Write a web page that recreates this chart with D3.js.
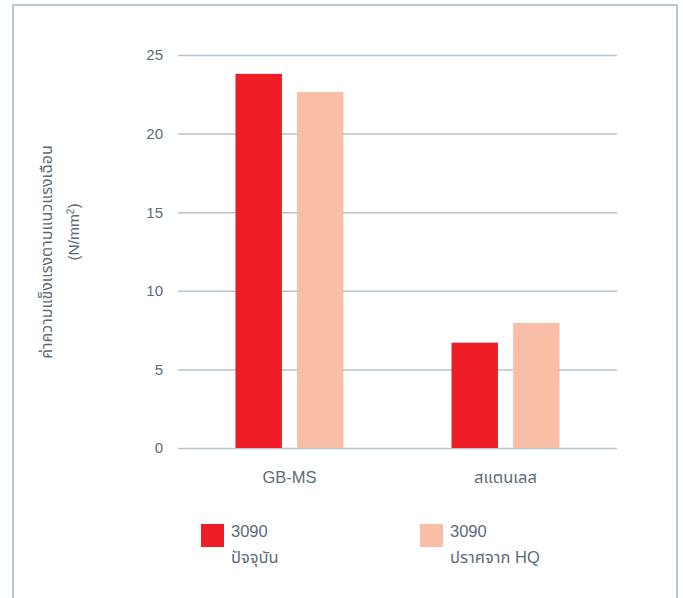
<!DOCTYPE html>
<html>
<head>
<meta charset="utf-8">
<script src="https://cdn.jsdelivr.net/npm/d3@7"></script>
<style>
  body { margin: 0; background: #fff; }
  text { font-family: "Liberation Sans", "Noto Sans Thai", "Noto Sans", sans-serif; fill: #5b6b78; }
</style>
</head>
<body>
<script>
// categories and series
var categories = ["GB-MS", "สแตนเลส"];
var seriesNames = ["3090|ปัจจุบัน", "3090|ปราศจาก HQ"];
var seriesColors = ["#ee1d25", "#f9bfa6"];
var current = [23.8, 6.7];
var noHQ = [22.65, 7.95];
var yTicks = [0, 5, 10, 15, 20, 25];

var width = 683, height = 598;
var plotLeft = 178, plotRight = 617, plotTop = 55, plotBottom = 448;

var svg = d3.select("body").append("svg")
            .attr("width", width)
            .attr("height", height);

// outer frame
svg.append("rect")
   .attr("x", 13).attr("y", 5)
   .attr("width", 664).attr("height", 610)
   .attr("fill", "none")
   .attr("stroke", "#b8c8d3")
   .attr("stroke-width", 2);

var y = d3.scaleLinear().domain([0, 25]).range([plotBottom, plotTop]);

var x0 = d3.scaleBand().domain(categories)
           .range([plotLeft, plotRight])
           .paddingInner(0.5)
           .paddingOuter(0.266);

var x1 = d3.scaleBand().domain([0, 1])
           .range([0, x0.bandwidth()])
           .paddingInner(0.246)
           .paddingOuter(0);

// grid lines
var yAxis = d3.axisLeft(y).tickValues(yTicks)
              .tickSize(-(plotRight - plotLeft)).tickPadding(15);
var ga = svg.append("g")
            .attr("transform", "translate(" + plotLeft + ",0)")
            .call(yAxis);
ga.select(".domain").remove();
ga.selectAll(".tick line").attr("stroke", "#b4c3cd").attr("stroke-width", 1.5);
ga.selectAll(".tick text")
  .style("font-size", "15px")
  .attr("fill", "#5b6b78");

var rows = categories.map(function (c, i) { return { cat: c, vals: [current[i], noHQ[i]] }; });

var groups = svg.selectAll("g.grp").data(rows).enter().append("g")
                .attr("class", "grp")
                .attr("transform", function (d) { return "translate(" + x0(d.cat) + ",0)"; });

groups.selectAll("rect")
      .data(function (d) { return d.vals; })
      .enter().append("rect")
      .attr("x", function (d, i) { return x1(i); })
      .attr("y", function (d) { return y(d); })
      .attr("width", x1.bandwidth())
      .attr("height", function (d) { return y(0) - y(d); })
      .attr("fill", function (d, i) { return seriesColors[i]; });

// category labels
var xAxis = d3.axisBottom(x0).tickSize(0).tickPadding(23);
var gx = svg.append("g")
            .attr("transform", "translate(0," + plotBottom + ")")
            .call(xAxis);
gx.select(".domain").remove();
gx.selectAll(".tick text").style("font-size", "16.5px").attr("fill", "#5b6b78");

// y title
var title = svg.append("g");
title.append("text")
     .attr("transform", "translate(52,252) rotate(-90)")
     .attr("text-anchor", "middle")
     .style("font-size", "16px")
     .text("ค่าความแข็งแรงตามแนวแรงเฉือน");
var t2 = title.append("text")
     .attr("transform", "translate(79,232) rotate(-90)")
     .attr("text-anchor", "middle")
     .style("font-size", "15.5px");
t2.append("tspan").text("(N/mm");
t2.append("tspan").attr("dy", -5).style("font-size", "10px").text("2");
t2.append("tspan").attr("dy", 5).text(")");

// legend
var legendX = [201, 420];
var lg = svg.selectAll("g.lg").data(seriesNames).enter().append("g")
            .attr("class", "lg")
            .attr("transform", function (d, i) { return "translate(" + legendX[i] + ",524)"; });
lg.append("rect")
  .attr("width", 23).attr("height", 23)
  .attr("fill", function (d, i) { return seriesColors[i]; });
lg.append("text")
  .attr("x", 30).attr("y", 13)
  .style("font-size", "16.5px")
  .text(function (d) { return d.split("|")[0]; });
lg.append("text")
  .attr("x", 30).attr("y", 39)
  .style("font-size", "16.5px")
  .text(function (d) { return d.split("|")[1]; });
</script>
</body>
</html>
